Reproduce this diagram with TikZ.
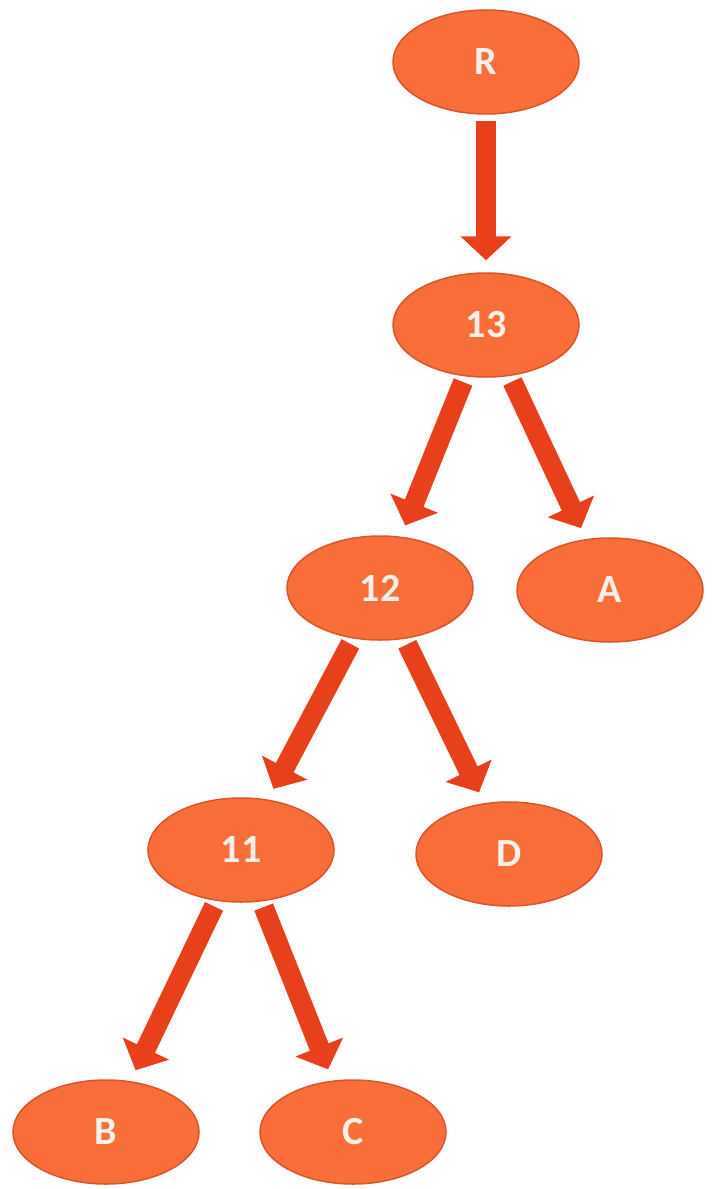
\documentclass[tikz,border=0pt]{standalone}
\usepackage{fontspec}
\setmainfont{Carlito}
\usetikzlibrary{arrows.meta,shapes.geometric}
\definecolor{nodefill}{HTML}{FA6E3A}
\definecolor{nodeline}{HTML}{D9542A}
\definecolor{arr}{HTML}{E8401A}
\definecolor{txt}{HTML}{F4F0EC}
\begin{document}
\begin{tikzpicture}[x=1pt,y=-1pt,
  nd/.style={ellipse,draw=nodeline,line width=1.5pt,fill=nodefill,minimum width=186pt,minimum height=104pt,inner sep=0pt,text=txt,font=\fontsize{40}{44}\selectfont\bfseries},
  bar/.style={arr,line width=20pt,-{Triangle[length=24pt,width=50pt]},shorten <=6pt,shorten >=12pt}]
\useasboundingbox (0,0) rectangle (713,1189);
\node[nd] (R) at (486,62) {R};
\node[nd] (n13) at (486,325) {13};
\node[nd] (n12) at (380,588) {12};
\node[nd] (A) at (610,590) {A};
\node[nd] (n11) at (241,850) {11};
\node[nd] (D) at (509,854) {D};
\node[nd] (B) at (106,1132) {B};
\node[nd] (C) at (353,1132) {C};
\draw[bar] (R) -- (n13);
\draw[bar] (n13) -- (n12);
\draw[bar] (n13) -- (A);
\draw[bar] (n12) -- (n11);
\draw[bar] (n12) -- (D);
\draw[bar] (n11) -- (B);
\draw[bar] (n11) -- (C);
\end{tikzpicture}
\end{document}
